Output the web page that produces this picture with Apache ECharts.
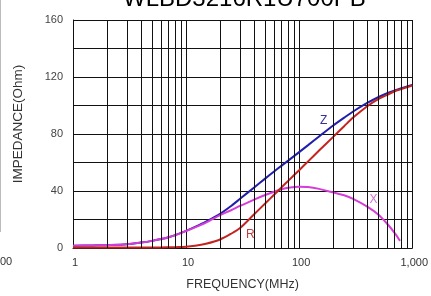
<!DOCTYPE html>
<html>
<head>
<meta charset="utf-8">
<script src="https://cdn.jsdelivr.net/npm/echarts@6/dist/echarts.min.js"></script>
<style>
  html, body { margin: 0; padding: 0; background: #fff; }
  #chart { width: 431px; height: 296px; }
</style>
</head>
<body>
<div id="chart"></div>
<script>
// frequency points (MHz)
const freqs = [1, 1.5, 2, 3, 4, 5, 6, 7, 8, 10, 12, 15, 20, 25, 30, 40, 50, 60, 70, 80, 100, 120, 150, 200, 250, 300, 400, 500, 600, 700, 800, 1000];
const zValues = [1.5, 1.8, 2, 2.6, 3.8, 5, 6.3, 7.6, 9, 12, 14.8, 18.5, 24, 29.5, 34.5, 42.5, 48.7, 53.7, 57.8, 61.3, 67.3, 72.2, 78.3, 86, 91.5, 95.8, 101.8, 105.8, 108.6, 110.6, 112.2, 114.5];
const rValues = [0.3, 0.3, 0.3, 0.3, 0.3, 0.4, 0.4, 0.5, 0.6, 0.8, 1.5, 3, 6, 10, 14, 23.7, 31.2, 37.4, 42.6, 47.1, 54.6, 60.8, 68.4, 78, 85.5, 91.5, 99.5, 104.5, 107.5, 110, 111.5, 114];
const xFreqs = [1, 1.5, 2, 3, 4, 5, 6, 7, 8, 10, 12, 15, 20, 25, 30, 40, 50, 60, 70, 80, 100, 120, 150, 200, 250, 300, 400, 500, 600, 700, 780];
const xValues = [1.5, 1.8, 2, 2.6, 3.8, 5, 6.3, 7.6, 9, 12, 14.5, 17.8, 23, 26.5, 29.5, 34, 37.2, 39.5, 41.2, 42.3, 43, 42.8, 41.5, 39, 37, 34.5, 29, 23.5, 17, 10.5, 5];

// minor grid lines of the log axis
const minorGrid = [2, 3, 4, 5, 6, 7, 8, 9, 20, 30, 40, 50, 60, 70, 80, 90, 200, 300, 400, 500, 600, 700, 800, 900];
const yTicks = [0, 40, 80, 120, 160];

const zip = (xs, ys) => xs.map((x, i) => [x, ys[i]]);
const font = "Liberation Sans, Arial, sans-serif";

const chart = echarts.init(document.getElementById("chart"), null, { renderer: "canvas" });
chart.setOption({
  backgroundColor: "#fff",
  animation: false,
  title: {
    text: "WLBD3216R1U700PB",
    left: 118,
    top: -18,
    textStyle: { color: "#000", fontSize: 24, fontWeight: "normal", fontFamily: font }
  },
  graphic: [
    { type: "line", shape: { x1: 0.5, y1: 0, x2: 0.5, y2: 232 }, style: { stroke: "#bbb", lineWidth: 1 } },
    { type: "text", left: 0, top: 256, style: { text: "00", fill: "#333", font: "11px Liberation Sans, Arial" } }
  ],
  grid: { left: 73, right: 12, top: 20, bottom: 45.5 },
  xAxis: {
    type: "log",
    logBase: 10,
    min: 1,
    max: 1000,
    name: "FREQUENCY(MHz)",
    nameLocation: "middle",
    nameGap: 30,
    nameTextStyle: { color: "#333", fontSize: 12.5, fontFamily: font },
    axisLine: { lineStyle: { color: "#111", width: 1 } },
    axisTick: { show: false },
    axisLabel: { margin: 9, padding: [0, 0, 0, 4], color: "#333", fontSize: 11, fontFamily: font },
    splitLine: { show: true, lineStyle: { color: "#111", width: 1 } }
  },
  yAxis: {
    type: "value",
    min: 0,
    max: 160,
    interval: 20,
    name: "IMPEDANCE(Ohm)",
    nameLocation: "middle",
    nameGap: 48,
    nameTextStyle: { color: "#333", fontSize: 13.5, fontFamily: font, padding: [0, 0, 0, 20] },
    axisLine: { show: true, lineStyle: { color: "#111", width: 1 } },
    axisTick: { show: false },
    axisLabel: {
      margin: 10,
      color: "#444",
      fontSize: 11,
      fontFamily: font,
      formatter: v => (yTicks.indexOf(v) >= 0 ? String(v) : "")
    },
    splitLine: { show: true, lineStyle: { color: "#111", width: 1 } }
  },
  series: [
    {
      name: "Z",
      type: "line",
      z: 2,
      data: zip(freqs, zValues),
      smooth: 0.3,
      showSymbol: false,
      lineStyle: { color: "#1f1faa", width: 2 },
      markLine: {
        silent: true,
        symbol: "none",
        label: { show: false },
        lineStyle: { color: "#111", width: 1, type: "solid" },
        data: minorGrid.map(v => ({ xAxis: v }))
      },
      markPoint: {
        symbol: "circle",
        symbolSize: 0,
        label: { show: true, position: "inside", formatter: "Z", color: "#333399", fontSize: 12 },
        data: [{ coord: [165, 89] }]
      }
    },
    {
      name: "X",
      type: "line",
      z: 3,
      data: zip(xFreqs, xValues),
      smooth: 0.3,
      showSymbol: false,
      lineStyle: { color: "#d83cd8", width: 2 },
      markPoint: {
        symbol: "circle",
        symbolSize: 0,
        label: { show: true, position: "inside", formatter: "X", color: "#d070d0", fontSize: 12 },
        data: [{ coord: [455, 34] }]
      }
    },
    {
      name: "R",
      type: "line",
      z: 4,
      data: zip(freqs, rValues),
      smooth: 0.3,
      showSymbol: false,
      lineStyle: { color: "#c42420", width: 2 },
      markPoint: {
        symbol: "circle",
        symbolSize: 0,
        label: { show: true, position: "inside", formatter: "R", color: "#c04040", fontSize: 12 },
        data: [{ coord: [37, 9.6] }]
      }
    }
  ]
});
</script>
</body>
</html>
